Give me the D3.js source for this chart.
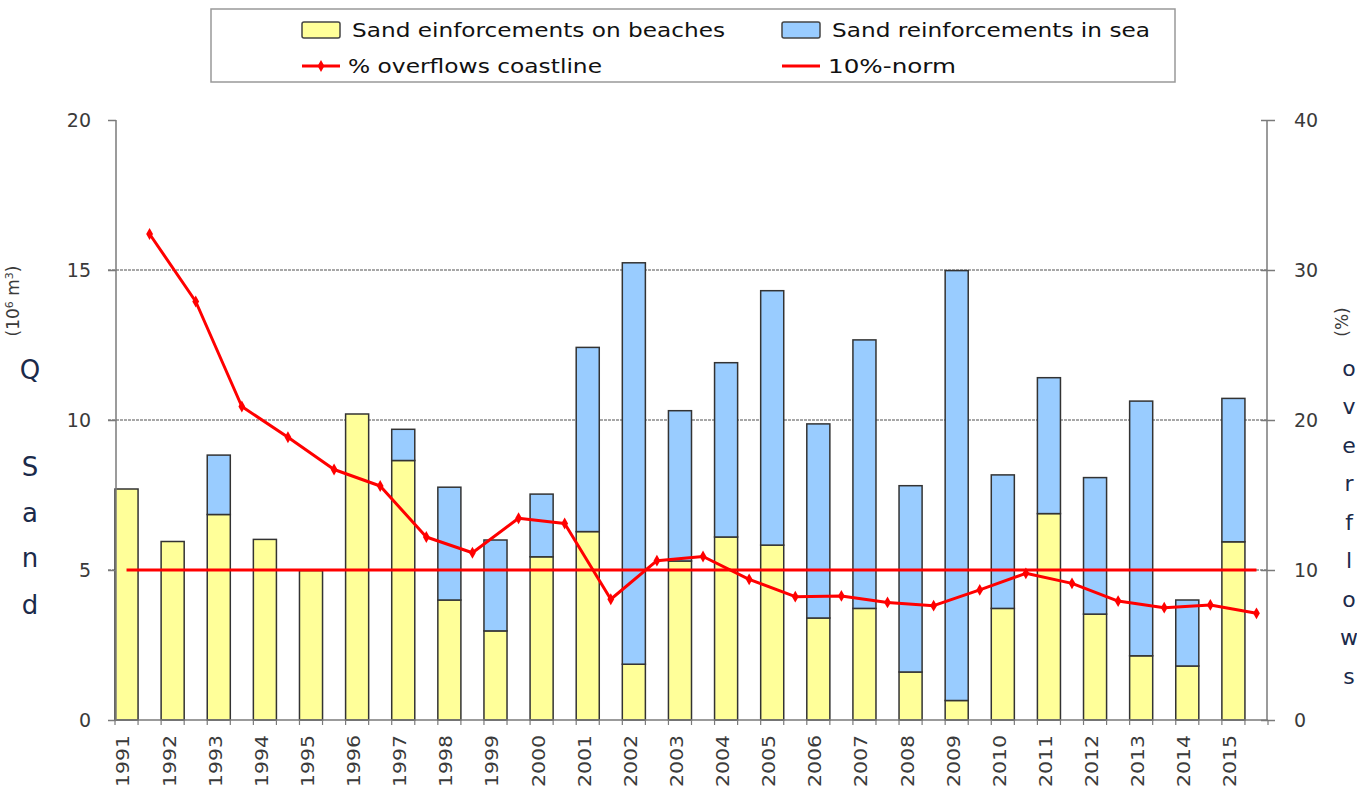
<!DOCTYPE html>
<html>
<head>
<meta charset="utf-8">
<script src="https://cdn.jsdelivr.net/npm/d3@7"></script>
<style>
  body { margin: 0; background: #fff; }
  svg { display: block; font-family: "DejaVu Sans", sans-serif; }
</style>
</head>
<body>
<div id="chart"></div>
<script>
// data
const years = ["1991","1992","1993","1994","1995","1996","1997","1998","1999","2000","2001","2002","2003",
               "2004","2005","2006","2007","2008","2009","2010","2011","2012","2013","2014","2015"];
// 10^6 m3
const beaches = [7.7, 5.95, 6.85, 6.02, 4.98, 10.2, 8.65, 4.0, 2.97, 5.44, 6.28, 1.86, 5.3,
                 6.1, 5.83, 3.4, 3.72, 1.6, 0.65, 3.72, 6.88, 3.53, 2.14, 1.8, 5.94];
const sea = [0, 0, 1.98, 0, 0, 0, 1.04, 3.76, 3.03, 2.09, 6.14, 13.38, 5.01,
             5.81, 8.48, 6.47, 8.95, 6.21, 14.33, 4.45, 4.53, 4.55, 8.49, 2.2, 4.78];
// % overflows coastline
const overflows = [32.4, 27.9, 20.9, 18.85, 16.7, 15.6, 12.2, 11.15, 13.45, 13.1, 8.05, 10.62, 10.9,
                   9.38, 8.22, 8.27, 7.84, 7.62, 8.67, 9.78, 9.11, 7.93, 7.49, 7.67, 7.11];
const norm = 10;
const leftTicks = [0, 5, 10, 15, 20];
const rightTicks = [0, 10, 20, 30, 40];

const W = 1357, H = 794;
const svg = d3.select("#chart").append("svg").attr("width", W).attr("height", H);

const x = d3.scaleBand().domain(years).range([115, 1268]).padding(0);
const bw = x.bandwidth();
const yL = d3.scaleLinear().domain([0, 20]).range([720, 120]);
const yR = d3.scaleLinear().domain([0, 40]).range([720, 120]);

// gridlines
svg.append("g").selectAll("line")
  .data([5, 10, 15])
  .join("line")
  .attr("x1", 108).attr("x2", 1268)
  .attr("y1", d => yL(d)).attr("y2", d => yL(d))
  .attr("stroke", "#8a8a8a").attr("stroke-width", 1.5)
  .attr("stroke-dasharray", "3 1");

// stacked bars
const stacked = years.map((y, i) => ({ year: y, beach: beaches[i], sea: sea[i] }));
const bars = svg.append("g");
bars.selectAll(".beach")
  .data(stacked)
  .join("rect")
  .attr("class", "beach")
  .attr("x", d => x(d.year))
  .attr("width", bw / 2)
  .attr("y", d => yL(d.beach))
  .attr("height", d => yL(0) - yL(d.beach))
  .attr("fill", "#ffff99").attr("stroke", "#333").attr("stroke-width", 1.5);
bars.selectAll(".sea")
  .data(stacked.filter(d => d.sea > 0))
  .join("rect")
  .attr("class", "sea")
  .attr("x", d => x(d.year))
  .attr("width", bw / 2)
  .attr("y", d => yL(d.beach + d.sea))
  .attr("height", d => yL(d.beach) - yL(d.beach + d.sea))
  .attr("fill", "#99ccff").attr("stroke", "#333").attr("stroke-width", 1.5);

// axes
const axisL = svg.append("g")
  .attr("transform", "translate(116,0)")
  .call(d3.axisLeft(yL).tickValues(leftTicks).tickSize(8).tickPadding(17));
const axisR = svg.append("g")
  .attr("transform", "translate(1267,0)")
  .call(d3.axisRight(yR).tickValues(rightTicks).tickSize(8).tickPadding(19));
axisR.selectAll(".tick line").attr("x1", -6);
[axisL, axisR].forEach(a => {
  a.select(".domain").attr("stroke", "#7a7a7a").attr("stroke-width", 1.5).attr("d", "M0,120V720");
  a.selectAll(".tick line").attr("stroke", "#7a7a7a").attr("stroke-width", 1.5);
  a.selectAll("text").attr("font-size", 19).attr("fill", "#3a3a3a").attr("font-family", "DejaVu Sans, sans-serif");
});

// x axis with ticks on both bar edges
const xa = svg.append("g");
xa.append("line").attr("x1", 115).attr("x2", 1268).attr("y1", 720).attr("y2", 720)
  .attr("stroke", "#7a7a7a").attr("stroke-width", 1.5);
const tickXs = years.flatMap(y => [x(y), x(y) + bw / 2]).concat([1268]);
xa.selectAll(".xt").data(tickXs).join("line")
  .attr("x1", d => d).attr("x2", d => d).attr("y1", 720).attr("y2", 725)
  .attr("stroke", "#7a7a7a").attr("stroke-width", 1.2);
xa.selectAll(".xl").data(years).join("text")
  .attr("transform", d => `translate(${x(d) + bw / 4 - 3},735) rotate(-90)`)
  .attr("text-anchor", "end").attr("dy", "0.35em")
  .attr("font-size", 17).attr("fill", "#3a3a3a")
  .attr("textLength", 52).attr("lengthAdjust", "spacingAndGlyphs")
  .text(d => d);

// 10%-norm line
svg.append("line")
  .attr("x1", x(years[0]) + bw / 4).attr("x2", x(years[years.length - 1]) + bw * 0.75)
  .attr("y1", yR(norm)).attr("y2", yR(norm))
  .attr("stroke", "#ff0000").attr("stroke-width", 3);

// overflow line
const line = d3.line()
  .x((d, i) => x(years[i]) + bw * 0.75)
  .y(d => yR(d));
svg.append("path")
  .datum(overflows)
  .attr("d", line)
  .attr("fill", "none").attr("stroke", "#ff0000").attr("stroke-width", 3)
  .attr("stroke-linejoin", "round");
svg.append("g").selectAll("path")
  .data(overflows)
  .join("path")
  .attr("transform", (d, i) => `translate(${x(years[i]) + bw * 0.75},${yR(d)})`)
  .attr("d", d3.symbol(d3.symbolDiamond, 40))
  .attr("fill", "#ff0000");

// axis titles
svg.append("text")
  .attr("transform", "translate(19,301) rotate(-90)")
  .attr("text-anchor", "middle").attr("font-size", 17).attr("fill", "#3a3a3a")
  .html('(10<tspan dy="-6" font-size="11">6</tspan><tspan dy="6"> m</tspan><tspan dy="-6" font-size="11">3</tspan><tspan dy="6">)</tspan>');
svg.append("text")
  .attr("transform", "translate(1348,322) rotate(-90)")
  .attr("text-anchor", "middle").attr("font-size", 17).attr("fill", "#3a3a3a")
  .text("(%)");

const leftLetters = [["Q", 370], ["S", 467], ["a", 513], ["n", 558], ["d", 605]];
svg.append("g").selectAll("text").data(leftLetters).join("text")
  .attr("x", 30).attr("y", d => d[1]).attr("dy", "0.35em")
  .attr("text-anchor", "middle").attr("font-size", 26).attr("fill", "#1b2a4a")
  .text(d => d[0]);
const rightLetters = "overflows".split("");
svg.append("g").selectAll("text").data(rightLetters).join("text")
  .attr("x", 1349).attr("y", (d, i) => 368 + i * 38.5).attr("dy", "0.35em")
  .attr("text-anchor", "middle").attr("font-size", 22).attr("fill", "#1b2a4a")
  .text(d => d);

// legend
const lg = svg.append("g");
lg.append("rect").attr("x", 211).attr("y", 9).attr("width", 964).attr("height", 73)
  .attr("fill", "#fff").attr("stroke", "#999").attr("stroke-width", 1.5);
const legendItems = [
  { label: "Sand einforcements on beaches", type: "box", color: "#ffff99", x: 302, y: 30, w: 373 },
  { label: "Sand reinforcements in sea", type: "box", color: "#99ccff", x: 782, y: 30, w: 318 },
  { label: "% overflows coastline", type: "marker", color: "#ff0000", x: 302, y: 66, w: 254 },
  { label: "10%-norm", type: "line", color: "#ff0000", x: 782, y: 66, w: 128 }
];
legendItems.forEach(d => {
  if (d.type === "box") {
    lg.append("rect").attr("x", d.x).attr("y", d.y - 8).attr("width", 38).attr("height", 16)
      .attr("rx", 2).attr("fill", d.color).attr("stroke", "#444").attr("stroke-width", 1.5);
  } else {
    lg.append("line").attr("x1", d.x).attr("x2", d.x + 38).attr("y1", d.y).attr("y2", d.y)
      .attr("stroke", d.color).attr("stroke-width", 3);
    if (d.type === "marker") {
      lg.append("path").attr("transform", `translate(${d.x + 19},${d.y})`)
        .attr("d", d3.symbol(d3.symbolDiamond, 40)).attr("fill", d.color);
    }
  }
  lg.append("text").attr("x", d.x + (d.type === "box" ? 50 : 46)).attr("y", d.y).attr("dy", "0.35em")
    .attr("font-size", 20).attr("fill", "#111")
    .attr("textLength", d.w).attr("lengthAdjust", "spacingAndGlyphs")
    .text(d.label);
});
</script>
</body>
</html>
